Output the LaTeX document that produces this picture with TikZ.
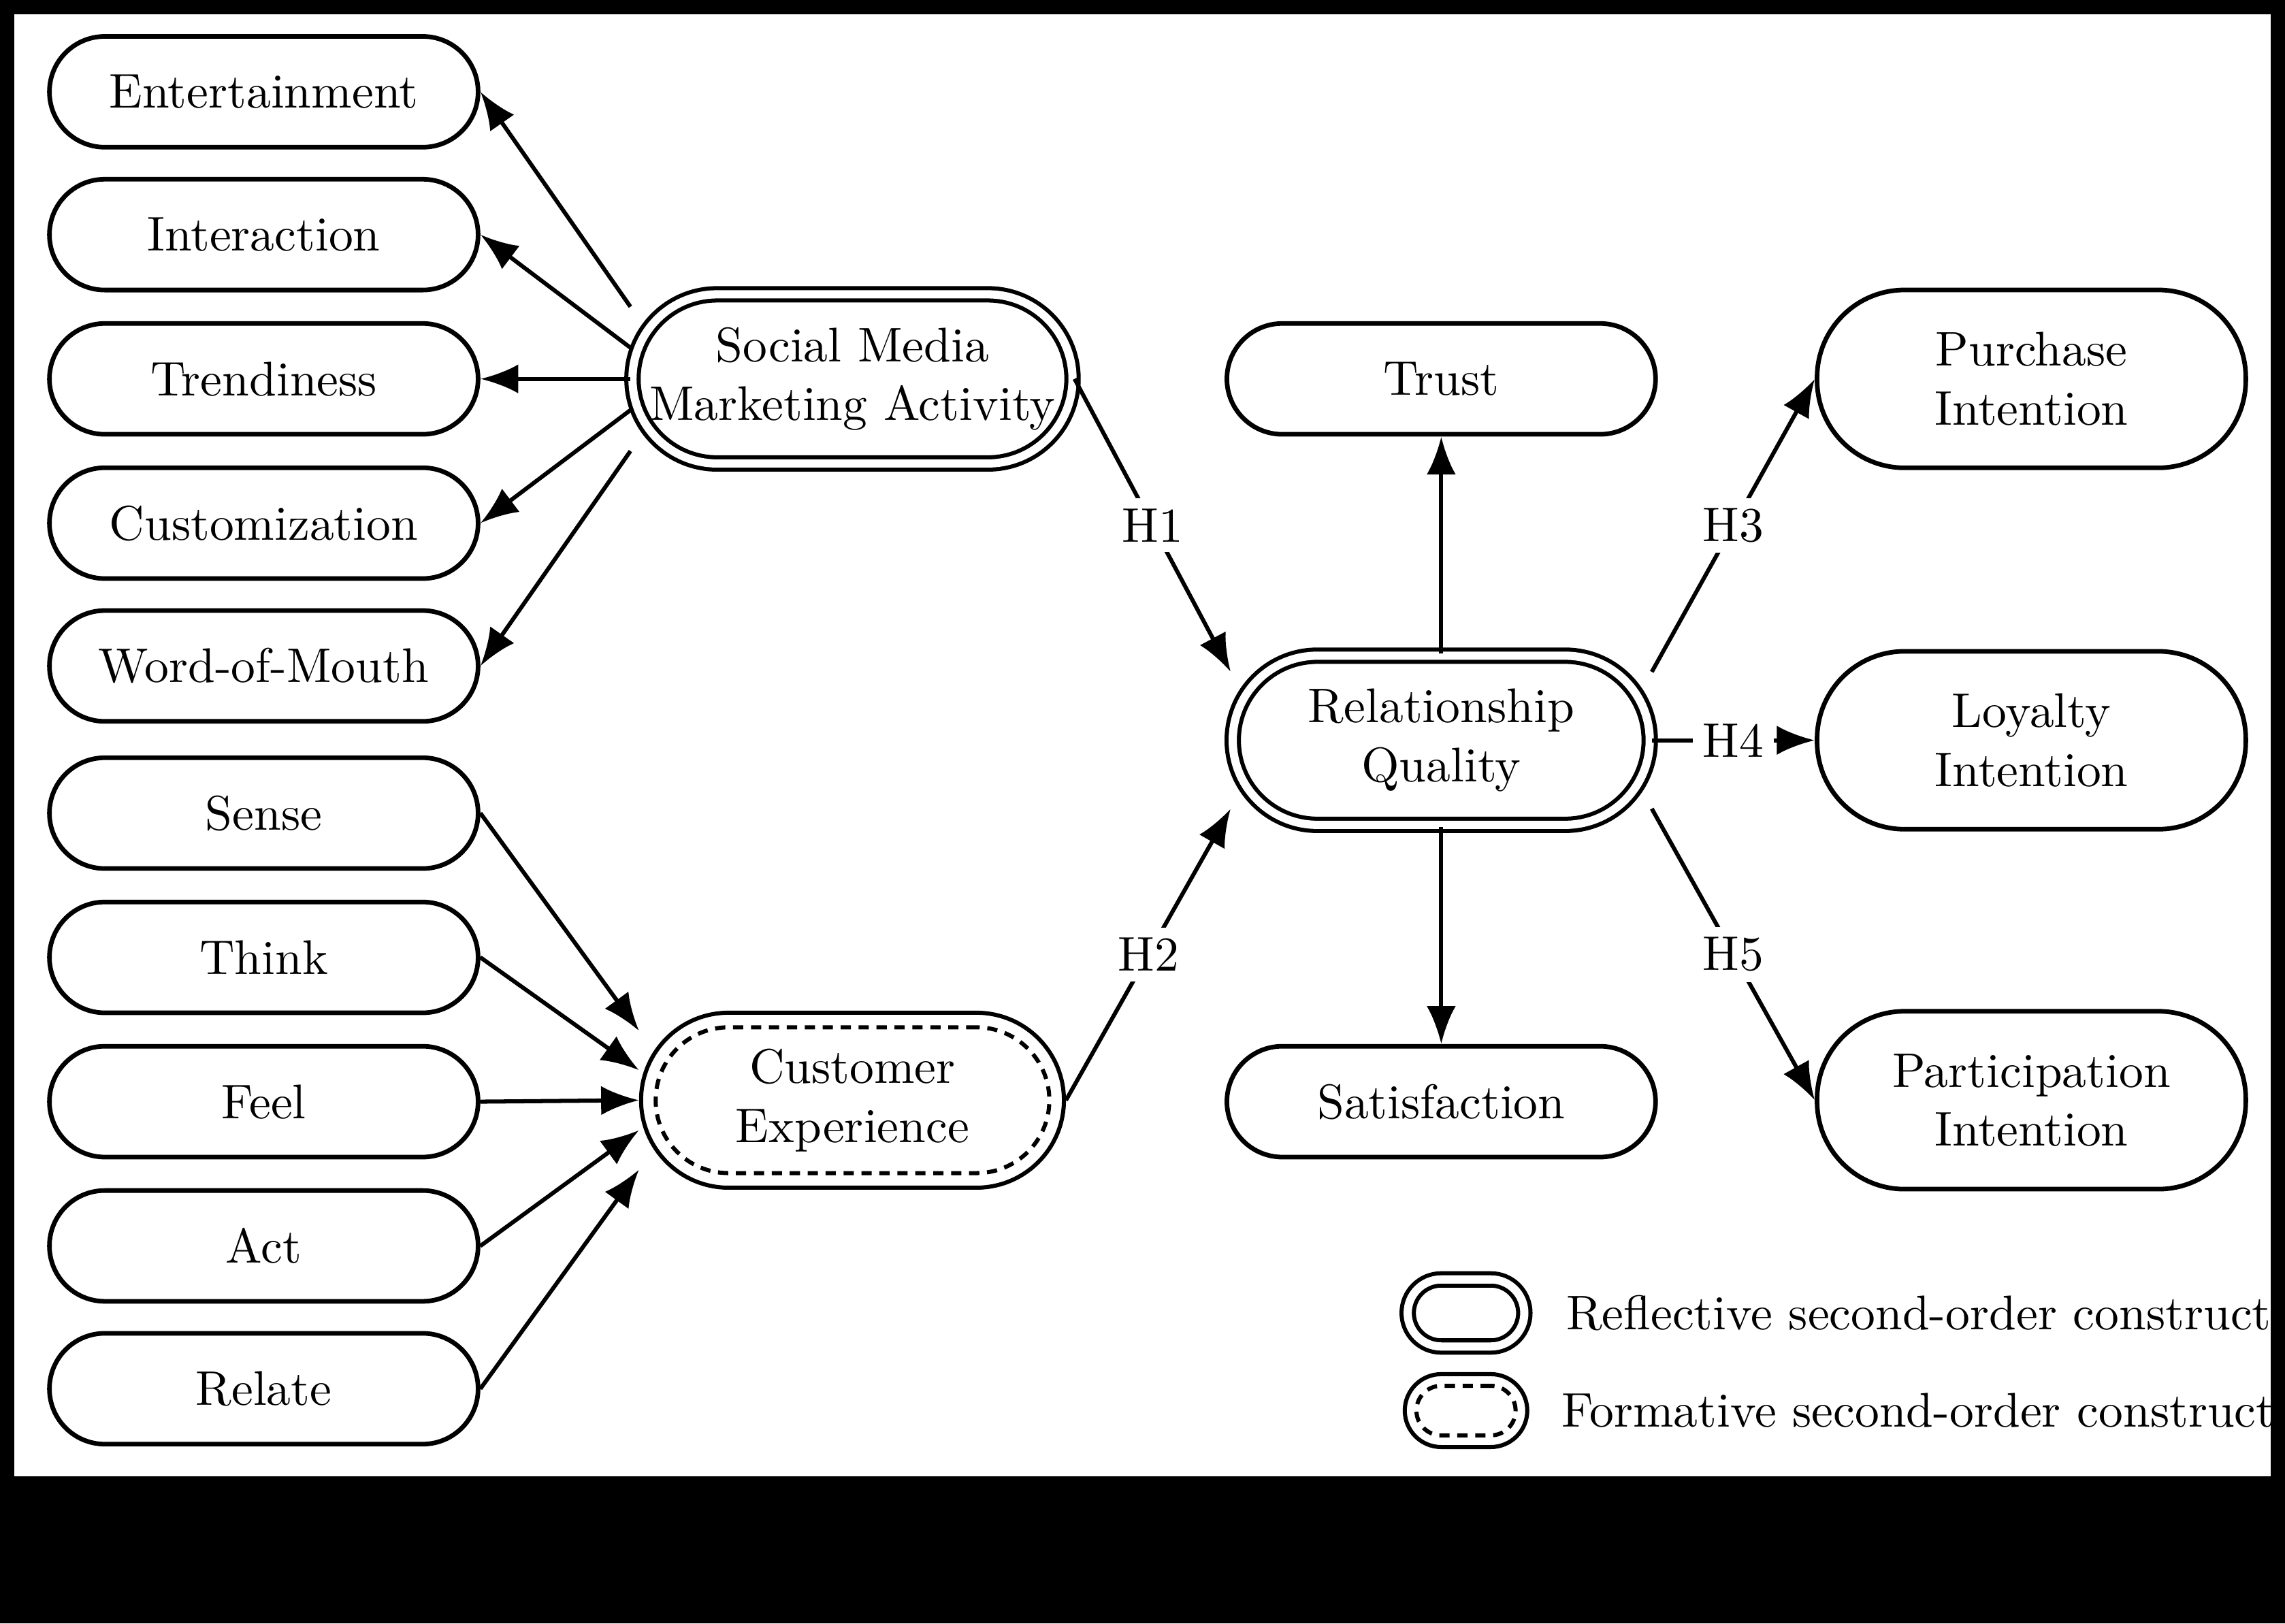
\documentclass[tikz,border=0pt]{standalone}
\usetikzlibrary{arrows.meta,positioning}
\tikzset{
  box/.style={draw, line width=0.9pt, rounded corners=3.8mm, minimum width=2.94cm, minimum height=0.76cm, align=center, font=\fontsize{9.5}{11.5}\selectfont},
  big/.style={box, rounded corners=6mm, minimum height=1.22cm},
  reflective/.style={draw, double, double distance=1.6pt, line width=0.8pt, rounded corners=5.8mm, minimum width=2.86cm, minimum height=1.16cm, align=center, font=\fontsize{9.5}{11.5}\selectfont},
  formative/.style={reflective, double=none, draw=none},
  dashinner/.style={draw, dashed, dash pattern=on 2pt off 1.5pt, line width=0.8pt, rounded corners=5mm, minimum width=2.7cm, minimum height=1.0cm},
  solidouter/.style={draw, line width=0.8pt, rounded corners=6mm, minimum width=2.9cm, minimum height=1.2cm},
  arr/.style={-{Latex[length=2.6mm,width=2mm]}, line width=0.8pt},
  hyp/.style={fill=white, inner sep=2pt, font=\fontsize{9.5}{11.5}\selectfont}
}
\begin{document}
\begin{tikzpicture}[x=0.01cm,y=-0.01cm]
\useasboundingbox (0,0) rectangle (1568,1114);
\fill[black] (0,0) rectangle (1568,1114);
\fill[white] (10,10) rectangle (1558,1013);

% first-order constructs
\node[box] (ent) at (181,63) {Entertainment};
\node[box] (int) at (181,161) {Interaction};
\node[box] (tre) at (181,260) {Trendiness};
\node[box] (cus) at (181,359) {Customization};
\node[box] (wom) at (181,457) {Word-of-Mouth};
\node[box] (sen) at (181,558) {Sense};
\node[box] (thi) at (181,657) {Think};
\node[box] (fee) at (181,756) {Feel};
\node[box] (act) at (181,855) {Act};
\node[box] (rel) at (181,953) {Relate};

% second-order constructs
\node[reflective] (smma) at (585,260) {Social Media\\Marketing Activity};
\node[solidouter] (ceo) at (585,755) {};
\node[dashinner] at (585,755) {};
\node[formative] (ce) at (585,755) {Customer\\Experience};
\node[reflective] (rq) at (989,508) {Relationship\\Quality};

\node[box] (tru) at (989,260) {Trust};
\node[box] (sat) at (989,756) {Satisfaction};
\node[big] (pur) at (1394,260) {Purchase\\Intention};
\node[big] (loy) at (1394,508) {Loyalty\\Intention};
\node[big] (par) at (1394,755) {Participation\\Intention};

% connectors
\draw[arr] (smma.162) -- (ent.east);
\draw[arr] (smma.172) -- (int.east);
\draw[arr] (smma.west) -- (tre.east);
\draw[arr] (smma.188) -- (cus.east);
\draw[arr] (smma.198) -- (wom.east);
\draw[arr] (sen.east) -- (ceo.162);
\draw[arr] (thi.east) -- (ceo.172);
\draw[arr] (fee.east) -- (ceo.west);
\draw[arr] (act.east) -- (ceo.188);
\draw[arr] (rel.east) -- (ceo.198);
\draw[arr] (smma.east) -- node[hyp] {H1} (rq.162);
\draw[arr] (ceo.east) -- node[hyp] {H2} (rq.198);
\draw[arr] (rq.north) -- (tru.south);
\draw[arr] (rq.south) -- (sat.north);
\draw[arr] (rq.18) -- node[hyp] {H3} (pur.west);
\draw[arr] (rq.east) -- node[hyp] {H4} (loy.west);
\draw[arr] (rq.-18) -- node[hyp] {H5} (par.west);

% legend
\node[reflective, minimum width=0.8cm, minimum height=0.46cm, rounded corners=2.3mm] (lr) at (1006,901) {};
\node[right=0.15cm of lr, font=\fontsize{9.5}{11.5}\selectfont] {Reflective second-order construct};
\node[solidouter, minimum width=0.84cm, minimum height=0.5cm, rounded corners=2.5mm] (lf) at (1006,968) {};
\node[dashinner, minimum width=0.68cm, minimum height=0.34cm, rounded corners=1.7mm] at (1006,968) {};
\node[right=0.1cm of lf, font=\fontsize{9.5}{11.5}\selectfont] {Formative second-order construct};
\end{tikzpicture}
\end{document}
